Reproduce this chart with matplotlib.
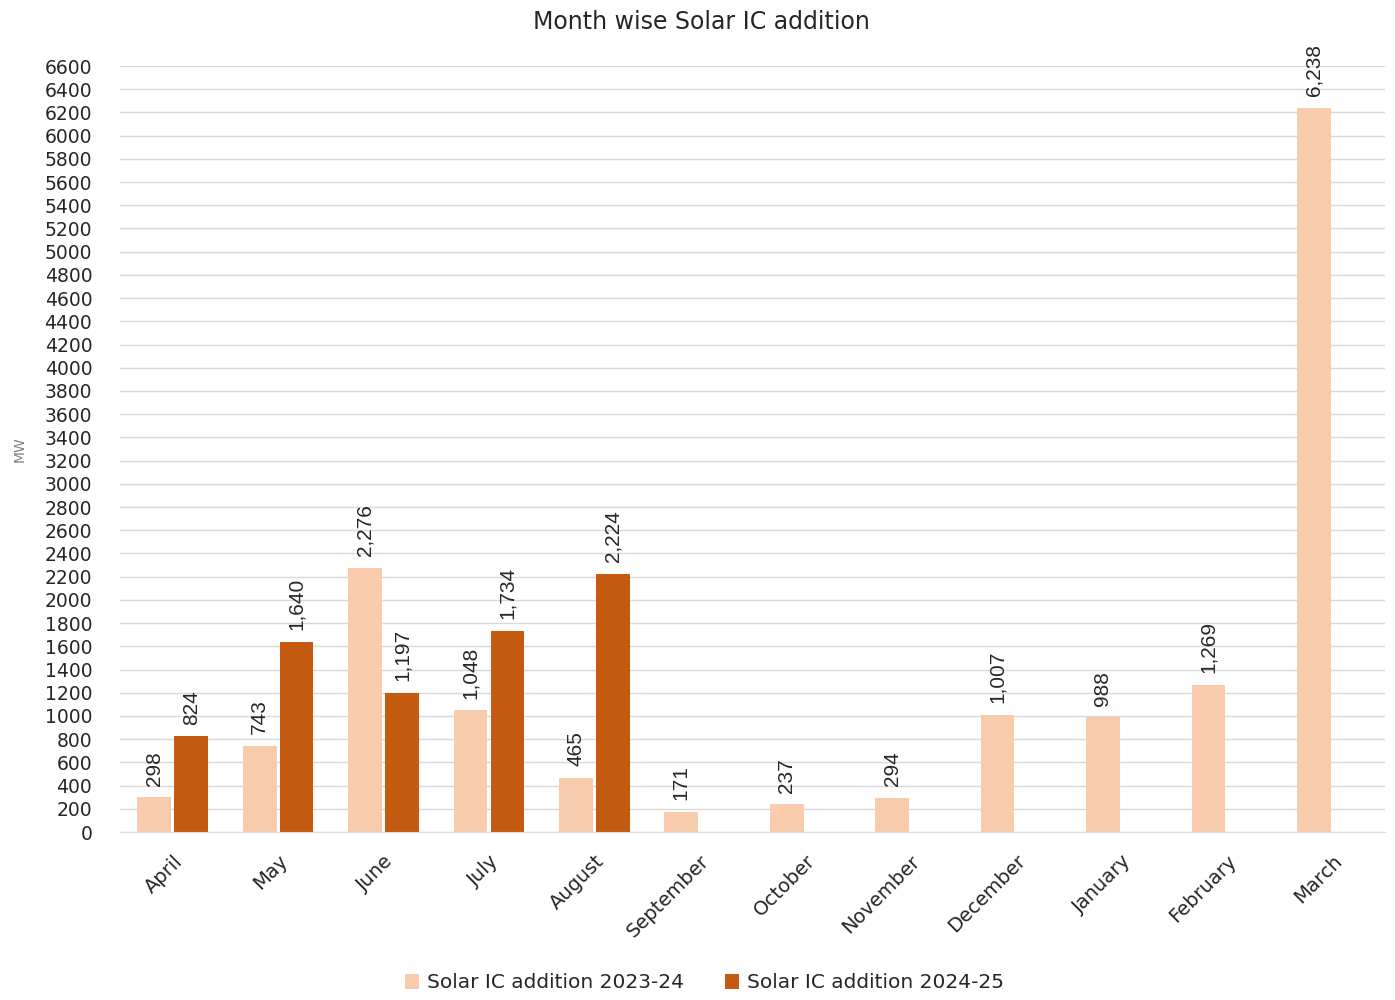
import matplotlib
matplotlib.use("Agg")
import matplotlib.pyplot as plt
import numpy as np

months = ["April", "May", "June", "July", "August", "September", "October",
          "November", "December", "January", "February", "March"]
fy2324 = [298, 743, 2276, 1048, 465, 171, 237, 294, 1007, 988, 1269, 6238]
fy2425 = [824, 1640, 1197, 1734, 2224]
yticks = list(range(0, 6601, 200))

c_light = "#F8CBAD"
c_dark = "#C55A11"

fig = plt.figure(figsize=(13.95, 10), dpi=100)
ax = fig.add_axes([0.086, 0.168, 0.9068, 0.766])

x = np.arange(len(months))
w = 0.32
off = 0.175

b1 = ax.bar(x - off, fy2324, width=w, color=c_light, label="Solar IC addition 2023-24", zorder=3)
x2 = np.arange(len(fy2425))
b2 = ax.bar(x2 + off, fy2425, width=w, color=c_dark, label="Solar IC addition 2024-25", zorder=3)

def fmt(v):
    return f"{v:,}"

for xs, vals in ((x - off, fy2324), (x2 + off, fy2425)):
    for xi, v in zip(xs, vals):
        ax.annotate(fmt(v), (xi, v), xytext=(0, 8.5), textcoords="offset points",
                    rotation=90, ha="center", va="bottom", fontsize=15,
                    family="Liberation Sans", color="#262626", annotation_clip=False)

ax.set_xlim(-0.5, len(months) - 0.5)
ax.set_ylim(0, 6600)
ax.set_yticks(yticks)
ax.set_yticklabels([str(t) for t in yticks], fontsize=13.5, color="#262626")
ax.set_xticks(x)
ax.set_xticklabels(months, rotation=45, ha="right", rotation_mode="anchor",
                   fontsize=14, color="#262626")
ax.tick_params(axis="both", length=0)
ax.tick_params(axis="y", pad=20)
ax.tick_params(axis="x", pad=14)

ax.grid(axis="y", color="#D9D9D9", linewidth=1, zorder=0)
for s in ["top", "right", "left"]:
    ax.spines[s].set_visible(False)
ax.spines["bottom"].set_color("#D9D9D9")
ax.spines["bottom"].set_zorder(4)

ax.set_ylabel("MW", fontsize=10, color="#808080")
ax.yaxis.set_label_coords(-0.074, 0.5)

fig.text(0.503, 0.978, "Month wise Solar IC addition", ha="center", va="center",
         fontsize=17, color="#262626")

leg = fig.legend(handles=[b1, b2], loc="center", bbox_to_anchor=(0.505, 0.017),
                 ncol=2, frameon=False, fontsize=14.5, handlelength=0.7,
                 handleheight=0.7, handletextpad=0.4, columnspacing=2.0)
for t in leg.get_texts():
    t.set_color("#262626")

fig.savefig("out.png", dpi=100)
